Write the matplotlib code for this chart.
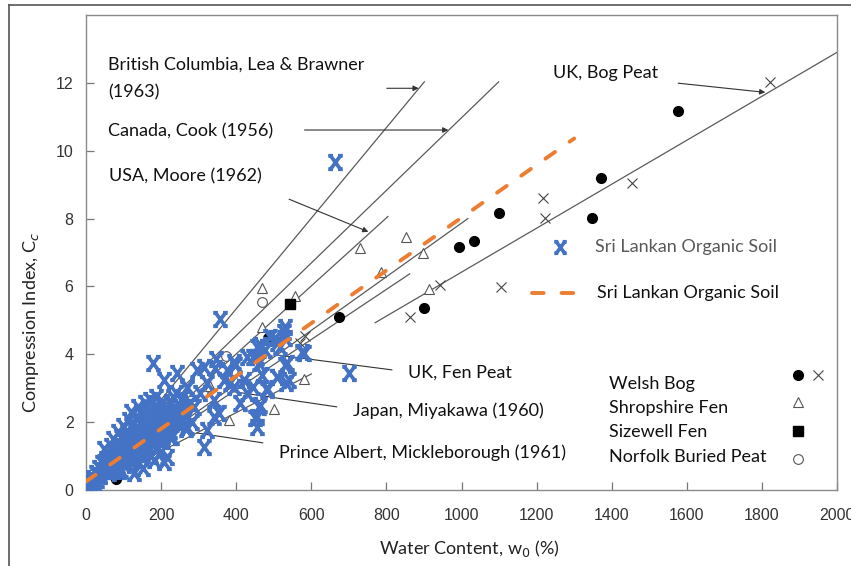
import matplotlib
matplotlib.use("Agg")
import matplotlib.pyplot as plt
from matplotlib.path import Path
from matplotlib.lines import Line2D

# ---------------- data ----------------
# Sri Lankan organic soil (blue markers)
sl_w = [2, 8, 12, 18, 22, 26, 30, 34, 38, 42, 46, 48, 52, 56, 60, 62, 66, 70, 72, 76,
        80, 84, 86, 90, 92, 96, 98, 102, 104, 108, 110, 114, 116, 120, 122, 126, 128, 132,
        134, 138, 140, 144, 146, 150, 152, 156, 158, 162, 164, 168, 170, 174, 176, 180,
        184, 186, 190, 192, 196, 200, 204, 208, 212, 216, 220, 226, 230, 236, 240, 246,
        250, 256, 260, 266, 270, 276, 282, 11, 92, 127, 153, 180, 207, 216, 189, 225,
        269, 322, 340, 340, 304, 287, 251, 216, 189, 233, 296, 269, 242, 207, 178,
        384, 375, 393, 411, 353, 429, 446, 469, 482, 509, 509, 526, 491, 455, 455,
        347, 398, 420, 446, 464, 504, 531, 531, 517, 477, 460, 535, 509, 540, 575,
        701, 464, 451, 482, 429, 393, 367, 344, 322, 313, 358, 664, 533, 529, 460,
        455, 455, 315, 580, 24, 36, 58, 64, 88, 100, 118, 136, 148, 160, 172, 196, 110, 142,
        15, 28, 44, 54, 68, 78, 94, 106, 112, 124, 130, 142, 154, 166, 178, 188, 198, 210,
        222, 234, 244, 258, 74, 86, 100, 118, 132, 146, 160, 174, 190, 206, 224, 248, 264,
        120, 138, 156, 170, 186, 202]
sl_cc = [0.10, 0.25, 0.05, 0.35, 0.20, 0.50, 0.30, 0.65, 0.45, 0.80, 0.55, 1.20, 0.90, 0.70,
         1.05, 0.50, 1.30, 0.85, 1.50, 1.10, 0.65, 1.35, 1.70, 0.95, 1.55, 1.20, 1.90, 1.45,
         0.80, 1.75, 1.10, 2.05, 1.35, 1.60, 0.95, 1.95, 1.25, 2.15, 1.50, 1.80, 1.10, 2.00,
         1.40, 2.25, 1.65, 1.90, 1.20, 2.10, 1.50, 2.35, 1.75, 1.00, 2.00, 1.35, 2.40, 1.60,
         2.20, 1.85, 1.10, 2.50, 1.45, 2.05, 1.70, 2.30, 1.90, 2.60, 1.55, 2.15, 2.85, 1.95,
         2.45, 2.70, 2.25, 1.80, 3.00, 2.55, 2.00, 0.10, 0.60, 0.49, 0.64, 0.88, 0.83, 0.98,
         1.28, 1.57, 1.87, 1.77, 2.16, 2.65, 2.85, 2.46, 2.16, 2.21, 2.46, 2.75, 3.54, 3.04,
         3.44, 3.24, 3.73,
         3.14, 3.54, 3.78, 2.56, 2.26, 3.93, 3.04, 3.39, 2.95, 3.34, 4.32, 4.67, 4.52, 4.22,
         3.93, 3.85, 3.68, 3.24, 3.93, 4.27, 4.47, 4.81, 4.47, 4.22, 4.13, 3.73, 3.75, 3.34,
         3.24, 4.08, 3.44, 2.50, 2.11, 3.00, 2.85, 3.04, 3.24, 3.59, 3.14, 3.63, 5.05, 9.67,
         3.16, 3.68, 2.46, 1.87, 2.16, 1.28, 4.03, 0.15, 0.40, 0.60, 0.95, 0.55, 0.75, 0.85,
         1.05, 1.10, 1.30, 1.45, 1.60, 1.55, 1.75,
         0.25, 0.45, 0.60, 0.80, 0.95, 1.05, 1.25, 1.30, 1.50, 1.40, 1.70, 1.55, 1.85, 1.65,
         1.95, 1.75, 2.05, 1.85, 2.20, 2.00, 2.30, 2.10, 0.55, 0.70, 0.90, 1.00, 1.05, 1.25,
         1.35, 1.45, 1.50, 1.60, 1.75, 2.05, 2.20, 2.30, 2.45, 2.55, 2.65, 2.75, 2.60]

# Sri Lankan organic soil regression (orange dashed)
fit_w = [0, 1300]
fit_cc = [0.25, 10.36]

# Published data
welsh_w = [1576, 1372, 1099, 1032, 994, 1347, 899, 675, 486, 81]
welsh_cc = [11.18, 9.19, 8.17, 7.35, 7.15, 8.01, 5.36, 5.09, 4.47, 0.31]
welshx_w = [1822, 1454, 1217, 1223, 943, 1106, 862, 584, 569]
welshx_cc = [12.03, 9.04, 8.60, 8.03, 6.03, 5.97, 5.11, 4.54, 4.34]
shrop_w = [853, 729, 897, 786, 914, 469, 557, 469, 581, 500, 382, 331]
shrop_cc = [7.45, 7.12, 7.00, 6.43, 5.92, 5.94, 5.73, 4.81, 3.27, 2.38, 2.06, 3.07]
size_w = [542]
size_cc = [5.47]
norf_w = [470, 372]
norf_cc = [5.55, 3.96]

# Published correlation lines: (w start, w end), (Cc start, Cc end)
bc_w, bc_cc = [25, 901], [0.33, 12.03]
cook_w, cook_cc = [25, 1099], [0.54, 12.03]
moore_w, moore_cc = [25, 804], [0.25, 8.06]
fen_w, fen_cc = [40, 1017], [0.28, 8.00]
japan_w, japan_cc = [40, 862], [0.30, 6.37]
prince_w, prince_cc = [40, 600], [0.23, 3.42]
bog_w, bog_cc = [770, 2000], [4.93, 12.90]

x_ticks = [0, 200, 400, 600, 800, 1000, 1200, 1400, 1600, 1800, 2000]
y_ticks = [0, 2, 4, 6, 8, 10, 12]

# ---------------- style ----------------
BLUE = "#4472C4"
ORANGE = "#ED7D31"
LINEC = "#5a5a5a"
TXT = "Lato"

# "X" with small caps on the arm ends
_v, _c = [], []
for sx in (-1, 1):
    for sy in (-1, 1):
        ex, ey = 0.55 * sx, 0.75 * sy
        _v += [(0, 0), (ex, ey)]
        _c += [Path.MOVETO, Path.LINETO]
        px = -0.75 * sy * 0.35
        _v += [(ex + px, ey), (ex - px, ey)]
        _c += [Path.MOVETO, Path.LINETO]
mk_path = Path(_v, _c)

fig = plt.figure(figsize=(8.51, 5.66), dpi=100)
ax = fig.add_axes([86 / 851, 1 - 490 / 566, (837 - 86) / 851, (490 - 15) / 566])

# correlation lines
for w, c in [(bc_w, bc_cc), (cook_w, cook_cc), (moore_w, moore_cc), (fen_w, fen_cc),
             (japan_w, japan_cc), (prince_w, prince_cc), (bog_w, bog_cc)]:
    ax.plot(w, c, color=LINEC, lw=0.9, zorder=2)

# published points
ax.plot(shrop_w, shrop_cc, ls="none", marker="^", ms=7, mfc="white", mec="#555555", mew=0.8, zorder=3)
ax.plot(norf_w, norf_cc, ls="none", marker="o", ms=7, mfc="white", mec="#555555", mew=0.8, zorder=3)
ax.plot(welshx_w, welshx_cc, ls="none", marker="x", ms=7, mec="#444444", mew=0.8, zorder=3)
ax.plot(welsh_w, welsh_cc, ls="none", marker="o", ms=7, mfc="black", mec="black", zorder=3)
ax.plot(size_w, size_cc, ls="none", marker="s", ms=7, mfc="black", mec="black", zorder=3)

# Sri Lankan data
ax.plot(sl_w, sl_cc, ls="none", marker=mk_path, ms=10.5, mfc="none", mec=BLUE, mew=2.7, zorder=4)
ax.plot(fit_w, fit_cc, color=ORANGE, lw=2.8, dashes=(3.0, 4.6), dash_capstyle="round", zorder=5)

ax.set_xlim(0, 2000)
ax.set_ylim(0, 14)
ax.set_xticks(x_ticks)
ax.set_yticks(y_ticks)
ax.tick_params(direction="in", length=6, width=0.9, color="#777777", labelcolor="#333333",
               labelsize=11.5)
ax.tick_params(axis="x", pad=13)
ax.tick_params(axis="y", pad=9)
for lab in ax.get_xticklabels() + ax.get_yticklabels():
    lab.set_fontfamily("Liberation Sans")
for s in ax.spines.values():
    s.set_color("#8a8a8a")
    s.set_linewidth(1.0)

ax.set_xlabel("Water Content, w$_0$ (%)", fontfamily=TXT, fontsize=13, color="#222222")
ax.xaxis.set_label_coords((469 - 86) / 751, -(538 - 490) / 475)
ax.set_ylabel("Compression Index, C$_c$", fontfamily=TXT, fontsize=13, color="#222222")
ax.yaxis.set_label_coords(-(86 - 41) / 751, (490 - 322) / 475)

# annotations
fs = 13
tk = dict(fontfamily=TXT, fontsize=fs, color="#111111", va="center", ha="left")
ax.text(59, 12.53, "British Columbia, Lea & Brawner", **tk)
ax.text(59, 11.73, "(1963)", **tk)
ax.text(59, 10.58, "Canada, Cook (1956)", **tk)
ax.text(62, 9.25, "USA, Moore (1962)", **tk)
ax.text(1244, 12.29, "UK, Bog Peat", **tk)
ax.text(858, 3.45, "UK, Fen Peat", **tk)
ax.text(712, 2.33, "Japan, Miyakawa (1960)", **tk)
ax.text(515, 1.09, "Prince Albert, Mickleborough (1961)", **tk)

ap = dict(arrowstyle="-|>", color="#333333", lw=0.8, mutation_scale=8, shrinkA=0, shrinkB=0)
ax.annotate("", xy=(886, 11.84), xytext=(801, 11.84), arrowprops=ap)
ax.annotate("", xy=(965, 10.61), xytext=(582, 10.61), arrowprops=ap)
ax.annotate("", xy=(752, 7.61), xytext=(541, 8.57), arrowprops=ap)
ax.annotate("", xy=(1809, 11.72), xytext=(1577, 11.99), arrowprops=ap)
ap2 = dict(arrowstyle="-", color="#333333", lw=0.8, shrinkA=0, shrinkB=0)
ax.annotate("", xy=(509, 3.98), xytext=(815, 3.54), arrowprops=ap2)
ax.annotate("", xy=(392, 2.90), xytext=(668, 2.45), arrowprops=ap2)
ax.annotate("", xy=(296, 1.68), xytext=(471, 1.39), arrowprops=ap2)

# in-plot legend
ax.plot([1263], [7.15], ls="none", marker=mk_path, ms=9, mfc="none", mec=BLUE, mew=2.6)
ax.text(1356, 7.15, "Sri Lankan Organic Soil", fontfamily=TXT, fontsize=fs, color="#595959",
        va="center", ha="left")
ax.plot([1188, 1308], [5.8, 5.8], color=ORANGE, lw=2.8, dashes=(3.0, 4.6), dash_capstyle="round")
ax.text(1361, 5.8, "Sri Lankan Organic Soil", **tk)

ax.text(1393, 3.12, "Welsh Bog", **tk)
ax.text(1393, 2.42, "Shropshire Fen", **tk)
ax.text(1393, 1.71, "Sizewell Fen", **tk)
ax.text(1393, 0.98, "Norfolk Buried Peat", **tk)
ax.plot([1897], [3.39], ls="none", marker="o", ms=7, mfc="black", mec="black")
ax.plot([1950], [3.39], ls="none", marker="x", ms=7, mec="#444444", mew=0.8)
ax.plot([1897], [2.60], ls="none", marker="^", ms=7, mfc="white", mec="#555555", mew=0.8)
ax.plot([1897], [1.74], ls="none", marker="s", ms=7, mfc="black", mec="black")
ax.plot([1897], [0.91], ls="none", marker="o", ms=7, mfc="white", mec="#555555", mew=0.8)

# outer frame
fig.add_artist(Line2D([9 / 851, 1.0], [1 - 5 / 566, 1 - 5 / 566], color="#555555", lw=1.2))
fig.add_artist(Line2D([9 / 851, 9 / 851], [0, 1 - 5 / 566], color="#555555", lw=1.2))

fig.savefig("out.png", dpi=100)
